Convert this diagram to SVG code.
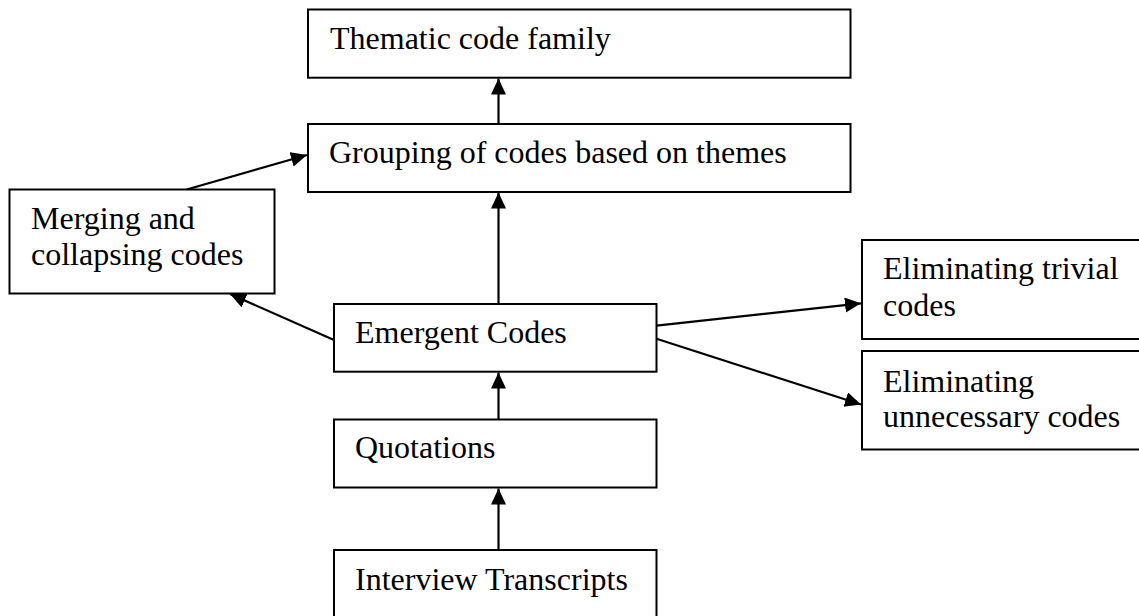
<svg xmlns="http://www.w3.org/2000/svg" width="1139" height="616" viewBox="0 0 1139 616">
<style>
.box{fill:#fff;stroke:#000;stroke-width:2}
.t{font-family:"Liberation Serif","Times New Roman",serif;font-size:32px;fill:#000}
.c{stroke:#000;stroke-width:2.2;fill:none}
</style>
<defs>
<marker id="ah" markerUnits="userSpaceOnUse" markerWidth="17" markerHeight="16" refX="16" refY="7.5" orient="auto">
<path d="M0,0 L16,7.5 L0,15 z" fill="#000"/>
</marker>
</defs>
<rect width="1139" height="616" fill="#fff"/>
<g id="connectors">
<line class="c" x1="498.5" y1="124" x2="498.5" y2="78.5" marker-end="url(#ah)"/>
<line class="c" x1="498.5" y1="304" x2="498.5" y2="192.5" marker-end="url(#ah)"/>
<line class="c" x1="498.5" y1="419.5" x2="498.5" y2="372.5" marker-end="url(#ah)"/>
<line class="c" x1="498.5" y1="550" x2="498.5" y2="488.5" marker-end="url(#ah)"/>
<line class="c" x1="186.7" y1="189.5" x2="307" y2="155" marker-end="url(#ah)"/>
<line class="c" x1="334" y1="340" x2="230" y2="294" marker-end="url(#ah)"/>
<line class="c" x1="656.5" y1="325.7" x2="861" y2="303.3" marker-end="url(#ah)"/>
<line class="c" x1="656.5" y1="338.7" x2="861" y2="404.5" marker-end="url(#ah)"/>
</g>
<g id="thematic">
<rect class="box" x="308" y="9.5" width="542.5" height="68.2"/>
<text class="t" x="330" y="49">Thematic code family</text>
</g>
<g id="grouping">
<rect class="box" x="308" y="124" width="542.5" height="68"/>
<text class="t" x="329" y="163">Grouping of codes based on themes</text>
</g>
<g id="merging">
<rect class="box" x="9.5" y="189.5" width="265" height="104"/>
<text class="t" x="31" y="229">Merging and</text>
<text class="t" x="31" y="265">collapsing codes</text>
</g>
<g id="emergent">
<rect class="box" x="334" y="304" width="322.5" height="67.7"/>
<text class="t" x="355" y="343">Emergent Codes</text>
</g>
<g id="quotations">
<rect class="box" x="334" y="419.5" width="322.5" height="68"/>
<text class="t" x="355" y="458">Quotations</text>
</g>
<g id="interview">
<rect class="box" x="334" y="550" width="322.5" height="90"/>
<text class="t" x="355" y="590">Interview Transcripts</text>
</g>
<g id="trivial">
<rect class="box" x="862" y="240" width="300" height="99"/>
<text class="t" x="883" y="279">Eliminating trivial</text>
<text class="t" x="883" y="316">codes</text>
</g>
<g id="unnecessary">
<rect class="box" x="862" y="351" width="300" height="98.5"/>
<text class="t" x="883" y="392">Eliminating</text>
<text class="t" x="883" y="427">unnecessary codes</text>
</g>
</svg>
